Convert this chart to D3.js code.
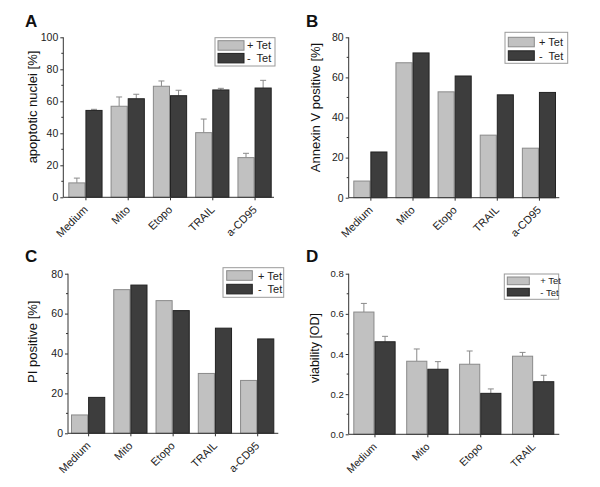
<!DOCTYPE html>
<html>
<head>
<meta charset="utf-8">
<script src="https://cdn.jsdelivr.net/npm/d3@7"></script>
<style>
  html, body { margin: 0; padding: 0; background: #fff; }
  svg { display: block; font-family: "Liberation Sans", Arial, sans-serif; }
</style>
</head>
<body>
<svg id="chart" width="600" height="487"></svg>
<script>
// ---------- data ----------
const categories5 = ["Medium", "Mito", "Etopo", "TRAIL", "a-CD95"];
const categories4 = ["Medium", "Mito", "Etopo", "TRAIL"];
const seriesNames = ["+ Tet", "-  Tet"];
const seriesNamesD = ["+ Tet", "- Tet"];

// Panel A: apoptotic nuclei [%]
const aPlus = [9, 56.9, 69.4, 40.4, 24.8];
const aPlusErr = [3, 5.8, 3.3, 8.5, 2.7];
const aMinus = [54.3, 61.6, 63.5, 67.1, 68.3];
const aMinusErr = [0.7, 2.8, 3.4, 1.0, 4.8];
const aTicks = [0, 20, 40, 60, 80, 100];

// Panel B: Annexin V positive [%]
const bPlus = [8.3, 67.3, 52.8, 31.2, 24.7];
const bMinus = [22.8, 72.2, 60.7, 51.3, 52.5];
const bTicks = [0, 20, 40, 60, 80];

// Panel C: PI positive [%]
const cPlus = [9.2, 72, 66.5, 30, 26.5];
const cMinus = [18, 74.3, 61.5, 52.7, 47.3];
const cTicks = [0, 20, 40, 60, 80];

// Panel D: viability [OD]
const dPlus = [0.609, 0.364, 0.349, 0.389];
const dPlusErr = [0.043, 0.061, 0.066, 0.019];
const dMinus = [0.461, 0.324, 0.204, 0.262];
const dMinusErr = [0.027, 0.038, 0.022, 0.032];
const dTicks = [0, 0.2, 0.4, 0.6, 0.8];

// ---------- styles ----------
const LIGHT = "#c1c1c1", LIGHT_STROKE = "#8a8a8a";
const DARK = "#3d3d3d", DARK_STROKE = "#222";
const AXIS = "#333";
const ERR = "#8a8a8a";

const svg = d3.select("#chart");

function panel(cfg) {
  const g = svg.append("g");
  const y = d3.scaleLinear().domain(cfg.yDomain).range([cfg.y0, cfg.y1]);
  const xb = d3.scaleBand().domain(cfg.cats).range([cfg.barStart, cfg.barEnd])
    .paddingInner(cfg.padInner).paddingOuter(0);
  const xs = d3.scaleBand().domain([0, 1]).range([0, xb.bandwidth()]);

  const series = [
    { vals: cfg.plus, err: cfg.plusErr, fill: LIGHT, stroke: LIGHT_STROKE, k: 0 },
    { vals: cfg.minus, err: cfg.minusErr, fill: DARK, stroke: DARK_STROKE, k: 1 }
  ];
  series.forEach(s => {
    if (s.err) {
      const eg = g.append("g");
      cfg.cats.forEach((c, i) => {
        const cx = xb(c) + xs(s.k) + xs.bandwidth() / 2;
        const yt = y(s.vals[i] + s.err[i]);
        eg.append("line").attr("x1", cx).attr("x2", cx)
          .attr("y1", y(s.vals[i])).attr("y2", yt)
          .attr("stroke", ERR).attr("stroke-width", 1);
        eg.append("line").attr("x1", cx - 3).attr("x2", cx + 3)
          .attr("y1", yt).attr("y2", yt)
          .attr("stroke", ERR).attr("stroke-width", 1);
      });
    }
    g.append("g").selectAll("rect").data(cfg.cats).join("rect")
      .attr("x", c => xb(c) + xs(s.k) + 0.5)
      .attr("width", xs.bandwidth() - 1)
      .attr("y", (c, i) => y(s.vals[i]))
      .attr("height", (c, i) => y(cfg.yDomain[0]) - y(s.vals[i]))
      .attr("fill", s.fill)
      .attr("stroke", s.stroke)
      .attr("stroke-width", 1);
  });

  // y axis
  const yAxis = d3.axisLeft(y).tickValues(cfg.ticks).tickSize(3).tickPadding(2)
    .tickFormat(cfg.fmt || (d => d));
  const ya = g.append("g").attr("transform", `translate(${cfg.x0},0)`).call(yAxis);
  ya.select(".domain").attr("stroke", AXIS).attr("d", `M-0,${cfg.y1}V${cfg.y0}`);
  ya.selectAll(".tick line").attr("stroke", AXIS);
  ya.selectAll("text").attr("font-size", cfg.tickFont).attr("fill", "#222");
  const minor = cfg.ticks.slice(0, -1).map((t, i) => (t + cfg.ticks[i + 1]) / 2);
  ya.selectAll(".minor").data(minor).join("line").attr("class", "minor")
    .attr("x1", -2).attr("x2", 0).attr("y1", d => y(d)).attr("y2", d => y(d))
    .attr("stroke", AXIS);

  // x axis
  const xPos = d3.scalePoint().domain(cfg.cats)
    .range([xb(cfg.cats[0]) + xb.bandwidth() / 2, xb(cfg.cats[cfg.cats.length - 1]) + xb.bandwidth() / 2]);
  const xAxis = d3.axisBottom(xPos).tickSize(3).tickSizeOuter(0);
  const xa = g.append("g").attr("transform", `translate(0,${cfg.y0})`).call(xAxis);
  xa.select(".domain").attr("stroke", AXIS).attr("d", `M${cfg.x0},0H${cfg.x1}`);
  xa.selectAll(".tick line").attr("stroke", AXIS);
  xa.selectAll("text")
    .attr("font-size", cfg.xFont).attr("fill", "#222")
    .attr("text-anchor", "end")
    .attr("x", 0).attr("y", 0).attr("dy", 0)
    .attr("transform", `translate(${cfg.xLabDx},${cfg.xLabDy}) rotate(-45)`);

  // y title
  g.append("text")
    .attr("transform", `translate(${cfg.titleX},${cfg.titleY}) rotate(-90)`)
    .attr("text-anchor", "middle").attr("dominant-baseline", "central")
    .attr("font-size", cfg.titleFont).attr("fill", "#111")
    .text(cfg.title);

  // panel letter
  g.append("text").attr("x", cfg.letterX).attr("y", cfg.letterY)
    .attr("font-size", 17).attr("font-weight", "bold").attr("fill", "#111")
    .text(cfg.letter);

  // legend
  const L = cfg.legend;
  const lg = g.append("g");
  lg.append("rect").attr("x", L.x).attr("y", L.y).attr("width", L.w).attr("height", L.h)
    .attr("fill", "#fff").attr("stroke", "#9a9a9a").attr("stroke-width", 1);
  [LIGHT, DARK].forEach((col, i) => {
    const sy = L.y + L.sy + i * L.gap;
    lg.append("rect").attr("x", L.x + L.sx).attr("y", sy).attr("width", L.sw).attr("height", L.sh)
      .attr("fill", col).attr("stroke", i === 0 ? LIGHT_STROKE : DARK_STROKE);
    lg.append("text").attr("x", L.x + L.tx).attr("y", sy + L.sh / 2)
      .attr("dominant-baseline", "central")
      .attr("font-size", L.font).attr("fill", "#222")
      .style("white-space", "pre")
      .text(cfg.names[i]);
  });
}

panel({
  letter: "A", letterX: 25, letterY: 27,
  cats: categories5, plus: aPlus, plusErr: aPlusErr, minus: aMinus, minusErr: aMinusErr,
  yDomain: [0, 100], ticks: aTicks, y0: 197.3, y1: 37.3, x0: 63.3, x1: 274,
  barStart: 68.3, barEnd: 271.7, padInner: 0.19,
  title: "apoptotic nuclei [%]", titleX: 32, titleY: 107, titleFont: 13,
  tickFont: 10.5, xFont: 11, xLabDx: 2.5, xLabDy: 13,
  names: seriesNames,
  legend: { x: 215, y: 37.7, w: 60, h: 28.3, sx: 3, sy: 3, sw: 26, sh: 9.5, gap: 12.7, tx: 32, font: 11 }
});

panel({
  letter: "B", letterX: 306, letterY: 27,
  cats: categories5, plus: bPlus, minus: bMinus,
  yDomain: [0, 80], ticks: bTicks, y0: 197.7, y1: 37.3, x0: 348.7, x1: 559.3,
  barStart: 353.3, barEnd: 556, padInner: 0.19,
  title: "Annexin V positive [%]", titleX: 315, titleY: 107.5, titleFont: 13,
  tickFont: 10.5, xFont: 11, xLabDx: 2.5, xLabDy: 13,
  names: seriesNames,
  legend: { x: 505, y: 32.3, w: 62.7, h: 31, sx: 3.3, sy: 5, sw: 26, sh: 9.5, gap: 13.5, tx: 34, font: 11 }
});

panel({
  letter: "C", letterX: 25, letterY: 262,
  cats: categories5, plus: cPlus, minus: cMinus,
  yDomain: [0, 80], ticks: cTicks, y0: 433.3, y1: 273.7, x0: 68, x1: 278.3,
  barStart: 71, barEnd: 274.3, padInner: 0.19,
  title: "PI positive [%]", titleX: 32.3, titleY: 341.7, titleFont: 13,
  tickFont: 10.5, xFont: 11, xLabDx: 2.5, xLabDy: 13,
  names: seriesNames,
  legend: { x: 223, y: 267.7, w: 60.7, h: 29.6, sx: 3.7, sy: 3, sw: 25.6, sh: 9.6, gap: 13.6, tx: 35, font: 11 }
});

panel({
  letter: "D", letterX: 306, letterY: 262,
  cats: categories4, plus: dPlus, plusErr: dPlusErr, minus: dMinus, minusErr: dMinusErr,
  yDomain: [0, 0.8], ticks: dTicks, y0: 434.3, y1: 273.7, x0: 348.7, x1: 559.3,
  barStart: 353.3, barEnd: 554.3, padInner: 0.2,
  title: "viability [OD]", titleX: 315, titleY: 348, titleFont: 12.5,
  tickFont: 9.5, xFont: 10.5, xLabDx: 2.5, xLabDy: 13,
  fmt: d3.format(".1f"),
  names: seriesNamesD,
  legend: { x: 504.3, y: 274, w: 54.4, h: 25.3, sx: 3, sy: 3, sw: 22, sh: 7.7, gap: 11.3, tx: 36, font: 9.5 }
});
</script>
</body>
</html>
